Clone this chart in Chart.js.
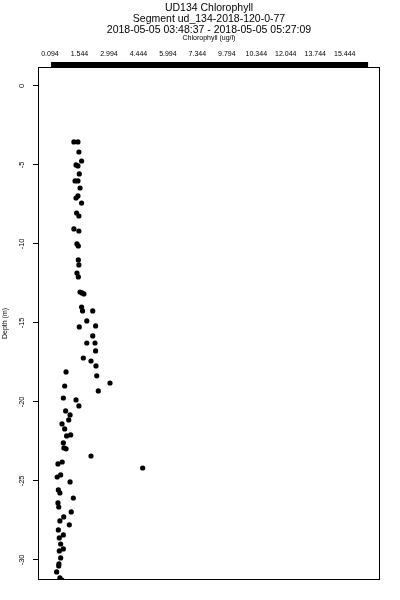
<!DOCTYPE html>
<html>
<head>
<meta charset="utf-8">
<script src="https://cdn.jsdelivr.net/npm/chart.js@4.4.1/dist/chart.umd.min.js"></script>
<style>
  body { margin: 0; background: #fff; }
  #wrap { position: relative; width: 400px; height: 600px; }
  #title {
    position: absolute; left: 38px; top: 2px; width: 342px;
    text-align: center; color: #000;
    font: 10.5px/11px 'Liberation Sans', Arial, Helvetica, sans-serif;
  }
</style>
</head>
<body>
<div id="wrap">
  <div id="title"></div>
  <canvas id="myChart" width="400" height="600"></canvas>
</div>
<script>
// chlorophyll (ug/l)
const chlorophyll = [
  1.34, 1.55, 1.60, 1.74, 1.45, 1.55, 1.62, 1.40, 1.55, 1.66,
  1.45, 1.55, 1.74, 1.48, 1.60, 1.34, 1.60, 1.57, 1.50, 1.57,
  1.60, 1.57, 1.50, 1.66, 1.86, 1.76, 1.74, 1.79, 2.32, 2.01,
  1.62, 2.47, 2.32, 2.01, 2.44, 2.47, 1.83, 2.23, 2.49, 0.93,
  2.53, 3.22, 0.86, 2.61, 0.79, 1.45, 1.60, 0.91, 1.14, 1.07,
  0.72, 0.86, 0.96, 1.17, 0.79, 0.82, 0.93, 2.23, 4.92, 0.73,
  0.51, 0.65, 0.47, 1.14, 0.53, 0.61, 1.31, 0.51, 0.55, 1.20,
  0.81, 0.61, 1.10, 0.53, 0.79, 0.58, 0.65, 0.79, 0.58, 0.65,
  0.56, 0.55, 0.44, 0.61, 0.72
];
// depth (m), same order
const depth = [
  -3.54, -3.54, -4.18, -4.75, -5.00, -5.06, -5.57, -6.01, -6.01, -6.46,
  -7.09, -6.96, -7.41, -8.04, -8.23, -9.05, -9.18, -10.13, -10.00, -11.01,
  -11.33, -12.09, -11.84, -13.04, -13.16, -13.10, -13.99, -14.24, -14.24, -14.87,
  -15.25, -15.19, -15.82, -16.27, -16.27, -16.77, -17.22, -17.41, -17.72, -18.10,
  -18.35, -18.80, -18.99, -19.30, -19.75, -19.87, -20.25, -20.57, -20.82, -21.14,
  -21.39, -21.71, -22.15, -22.09, -22.59, -22.91, -22.97, -23.42, -24.18, -23.80,
  -23.92, -24.62, -24.75, -25.06, -25.57, -25.76, -26.08, -26.39, -26.65, -26.96,
  -27.28, -27.53, -27.78, -28.10, -28.42, -28.61, -28.99, -29.30, -29.43, -29.87,
  -30.25, -30.38, -30.76, -31.14, -31.27
];

// top axis tick labels as printed
const xTickLabels = ["0.094", "1.544", "2.994", "4.444", "5.994", "7.344",
  "9.794", "10.344", "12.044", "13.744", "15.444"];
const yTicks = [0, -5, -10, -15, -20, -25, -30];

const titleLines = [
  "UD134 Chlorophyll",
  "Segment ud_134-2018-120-0-77",
  "2018-05-05 03:48:37 - 2018-05-05 05:27:09"
];

const xMin = -0.53, xMax = 17.28;
const yMin = -31.27, yMax = 1.2;
const barFrom = 0.15, barTo = 16.66;

// title over the plot region, like R does it
const titleDiv = document.getElementById("title");
titleLines.forEach((t) => {
  const d = document.createElement("div");
  d.textContent = t;
  titleDiv.appendChild(d);
});

// labels sit evenly between first and last value
const firstTick = parseFloat(xTickLabels[0]);
const lastTick = parseFloat(xTickLabels[xTickLabels.length - 1]);
const tickStep = (lastTick - firstTick) / (xTickLabels.length - 1);

const FONT = "'Liberation Sans', Arial, Helvetica, sans-serif";

const framePlugin = {
  id: 'frame',
  afterDraw(chart) {
    const ctx = chart.ctx;
    const a = chart.chartArea;
    const x = chart.scales.x;
    ctx.save();
    ctx.strokeStyle = '#000';
    ctx.lineWidth = 1;
    ctx.strokeRect(a.left + 0.5, a.top + 0.5, a.right - a.left - 1, a.bottom - a.top - 1);
    // thick top bar
    ctx.fillStyle = '#000';
    const x0 = x.getPixelForValue(barFrom);
    const x1 = x.getPixelForValue(barTo);
    ctx.fillRect(x0, a.top - 5, x1 - x0, 6);
    ctx.restore();
  }
};

new Chart(document.getElementById("myChart"), {
  type: 'scatter',
  data: {
    datasets: [{
      data: chlorophyll.map((v, i) => ({ x: v, y: depth[i] })),
      backgroundColor: '#000',
      borderWidth: 0,
      pointRadius: 2.6,
      pointHoverRadius: 2.6
    }]
  },
  options: {
    responsive: false,
    animation: false,
    layout: { padding: { left: 0, right: 20, top: 35, bottom: 20 } },
    plugins: {
      legend: { display: false },
      tooltip: { enabled: false },
      title: { display: false }
    },
    scales: {
      x: {
        type: 'linear',
        position: 'top',
        min: xMin,
        max: xMax,
        afterBuildTicks: (s) => {
          s.ticks = xTickLabels.map((t, i) => ({ value: firstTick + i * tickStep }));
        },
        afterFit: (s) => { s.height = 32; },
        ticks: {
          color: '#000',
          font: { family: FONT, size: 7, lineHeight: 1.2 },
          padding: 0.5,
          maxRotation: 0,
          autoSkip: false,
          callback: (v, i) => xTickLabels[i]
        },
        grid: { display: false },
        border: { display: false },
        title: {
          display: true,
          text: 'Chlorophyll (ug/l)',
          color: '#000',
          font: { family: FONT, size: 7, lineHeight: 1.0 },
          padding: 0
        }
      },
      y: {
        type: 'linear',
        min: yMin,
        max: yMax,
        afterBuildTicks: (s) => { s.ticks = yTicks.map(v => ({ value: v })); },
        afterFit: (s) => { s.width = 38; },
        ticks: {
          color: '#000',
          font: { family: FONT, size: 7.5 },
          minRotation: 90,
          maxRotation: 90,
          crossAlign: 'center',
          padding: 6
        },
        grid: {
          drawOnChartArea: false,
          drawTicks: true,
          tickLength: 5,
          color: '#000'
        },
        border: { display: false },
        title: {
          display: true,
          text: 'Depth (m)',
          color: '#000',
          font: { family: FONT, size: 7, lineHeight: 1.0 },
          padding: 2
        }
      }
    }
  },
  plugins: [framePlugin]
});
</script>
</body>
</html>
